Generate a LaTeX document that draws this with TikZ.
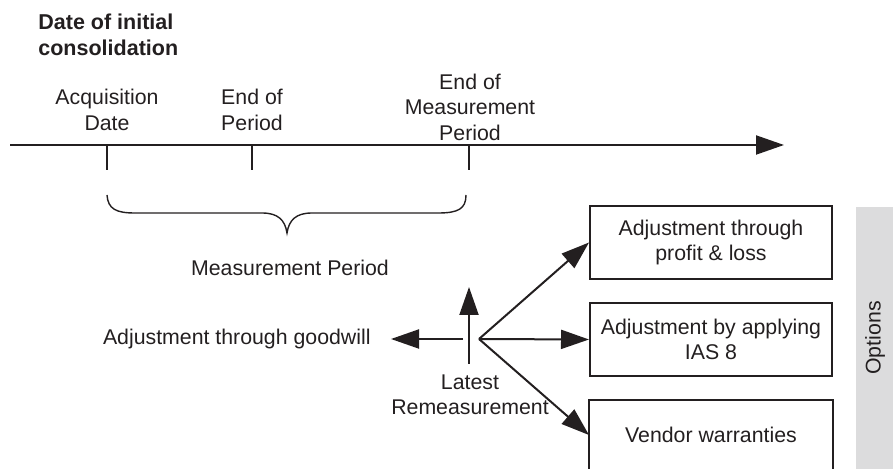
\documentclass[tikz,border=0pt]{standalone}
\usepackage{fontspec}
\setmainfont{Liberation Sans}
\usetikzlibrary{arrows.meta}
\definecolor{ink}{HTML}{231F20}
\definecolor{panel}{HTML}{DCDCDD}
\begin{document}
\begin{tikzpicture}[x=0.5pt,y=-0.5pt,
  every node/.style={text=ink,font=\fontsize{10.65}{12.75}\selectfont,align=center},
  line/.style={draw=ink,line width=1pt},
  tip/.style={-{Triangle[length=14pt,width=9.5pt]}},
  optbox/.style={draw=ink,line width=1pt,minimum width=121pt,minimum height=36.5pt,inner sep=0pt}]
\useasboundingbox (0,0) rectangle (893,469);
\clip (0,0) rectangle (893,469);

% heading
\node[anchor=west,align=left,font=\fontsize{10.75}{13}\selectfont\bfseries,inner sep=0pt] (head) at (38,35) {Date of initial\\consolidation};

% time axis
\coordinate (t0) at (10,145);
\coordinate (t1) at (784,145);
\draw[line,tip] (t0) -- (t1);
\coordinate (ka) at (107,145);
\coordinate (kb) at (252,145);
\coordinate (kc) at (469,145);
\draw[line] (ka) -- ++(0,25);
\draw[line] (kb) -- ++(0,25);
\draw[line] (kc) -- ++(0,25);

\node (acq) at (107,110) {Acquisition\\Date};
\node (eop) at (252,110) {End of\\Period};
\node (emp) at (470,107) {End of\\Measurement\\Period};

% brace over the measurement period
\draw[draw=ink,line width=0.7pt] (107,195) .. controls (108,209) and (116,213) .. (135,213)
  -- (262,213) .. controls (278,213) and (285,220) .. (287,233)
  .. controls (289,220) and (296,213) .. (312,213)
  -- (438,213) .. controls (458,213) and (466,209) .. (466,195);
\node (mp) at (290,268) {Measurement Period};

% latest remeasurement
\coordinate (up0) at (469,364);
\coordinate (up1) at (469,287);
\draw[line,tip] (up0) -- (up1);
\node (latest) at (470,395) {Latest\\Remeasurement};
\coordinate (o) at (479,339);
\coordinate (l0) at (463,339);
\node[anchor=east,inner xsep=10pt] (gw) at (391,339) {Adjustment through goodwill};
\draw[line,tip] (l0) -- (gw.east);

% options
\node[optbox] (b1) at (711,242.5) {Adjustment through\\profit \& loss};
\node[optbox] (b2) at (711,339.5) {Adjustment by applying\\IAS 8};
\node[optbox,draw=none] (b3) at (711,435) {Vendor warranties};
\draw[line] (b3.west |- 0,490) |- (b3.east |- 0,400) -- (b3.east |- 0,490);
\draw[line,tip] (o) -- (b1.west);
\draw[line,tip] (o) -- (b2.west);
\draw[line,tip] (o) -- (b3.west);

\fill[panel] (856,207) rectangle (893,469);
\node[rotate=90] (opt) at (875,338) {Options};
\end{tikzpicture}
\end{document}
